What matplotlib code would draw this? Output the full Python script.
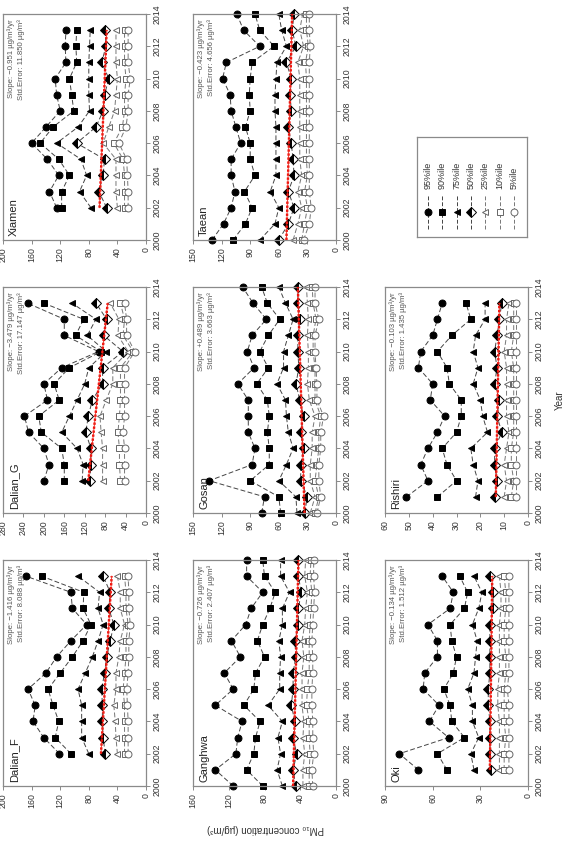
import matplotlib.pyplot as plt

# figure is the usual 3x3 panel figure turned 90 deg counter-clockwise
W, H = 582, 841
plt.rcParams['font.family'] = ['Liberation Sans', 'DejaVu Sans']

pct_labels = ['95%ile', '90%ile', '75%ile', '50%ile', '25%ile', '10%ile', '5%ile']

# rows: 95, 90, 75, 50, 25, 10, 5 %ile
dalian_f_years = [2002, 2003, 2004, 2005, 2006, 2007, 2008, 2009, 2010, 2011, 2012, 2013]
dalian_f_vals = [
    [121, 143, 158, 155, 165, 140, 125, 105, 83, 103, 105, 168],
    [105, 127, 122, 130, 137, 120, 103, 88, 77, 88, 87, 146],
    [80, 90, 90, 90, 95, 85, 75, 67, 60, 67, 65, 95],
    [57, 60, 61, 61, 62, 58, 55, 50, 45, 52, 50, 60],
    [40, 42, 43, 45, 42, 42, 38, 36, 30, 36, 36, 40],
    [30, 30, 30, 30, 32, 30, 28, 28, 25, 28, 28, 30],
    [25, 25, 25, 26, 27, 25, 24, 24, 22, 24, 24, 25],
]
dalian_g_years = [2002, 2003, 2004, 2005, 2006, 2007, 2008, 2009, 2010, 2011, 2012, 2013]
dalian_g_vals = [
    [200, 190, 200, 230, 238, 193, 200, 165, 93, 160, 160, 232],
    [160, 160, 165, 205, 210, 170, 180, 150, 88, 138, 122, 200],
    [125, 123, 135, 165, 150, 135, 120, 112, 78, 115, 98, 145],
    [110, 108, 108, 118, 113, 105, 85, 85, 45, 83, 77, 98],
    [85, 85, 85, 88, 90, 78, 65, 65, 35, 55, 53, 70],
    [50, 52, 52, 55, 52, 50, 50, 50, 25, 45, 42, 50],
    [42, 42, 42, 45, 42, 42, 42, 42, 22, 38, 38, 42],
]
xiamen_years = [2002, 2003, 2004, 2005, 2006, 2007, 2008, 2009, 2010, 2011, 2012, 2013]
xiamen_vals = [
    [125, 135, 122, 138, 160, 140, 120, 125, 127, 112, 113, 112],
    [118, 118, 107, 122, 148, 130, 101, 104, 107, 97, 98, 97],
    [77, 93, 83, 91, 125, 95, 79, 80, 80, 80, 79, 78],
    [55, 66, 60, 58, 97, 70, 60, 58, 52, 62, 56, 57],
    [40, 42, 42, 42, 60, 52, 44, 42, 40, 42, 42, 42],
    [30, 30, 30, 32, 45, 33, 30, 30, 28, 30, 30, 30],
    [25, 25, 26, 27, 38, 28, 25, 25, 22, 25, 25, 25],
]
ganghwa_years = [2000, 2001, 2002, 2003, 2004, 2005, 2006, 2007, 2008, 2009, 2010, 2011, 2012, 2013, 2014]
ganghwa_vals = [
    [115, 135, 112, 110, 105, 135, 115, 125, 107, 117, 101, 95, 82, 100, 100],
    [82, 100, 92, 90, 85, 103, 92, 90, 80, 88, 82, 74, 68, 80, 82],
    [60, 66, 62, 65, 60, 76, 63, 63, 62, 64, 60, 60, 52, 62, 62],
    [45, 48, 44, 48, 46, 50, 48, 48, 45, 46, 42, 42, 39, 42, 42],
    [37, 37, 35, 37, 36, 38, 38, 38, 36, 38, 35, 34, 32, 35, 34],
    [30, 30, 29, 30, 30, 33, 32, 30, 30, 30, 29, 28, 27, 29, 28],
    [26, 27, 25, 26, 26, 27, 27, 26, 26, 27, 26, 25, 24, 25, 25],
]
gosan_years = [2000, 2001, 2002, 2003, 2004, 2005, 2006, 2007, 2008, 2009, 2010, 2011, 2012, 2013, 2014]
gosan_vals = [
    [78, 75, 133, 88, 85, 92, 92, 92, 103, 86, 93, 88, 73, 87, 98],
    [58, 60, 90, 70, 70, 72, 70, 72, 83, 71, 80, 71, 59, 72, 78],
    [41, 42, 60, 52, 45, 50, 52, 53, 62, 55, 55, 50, 45, 53, 60],
    [33, 30, 37, 37, 34, 37, 34, 38, 42, 39, 40, 40, 38, 40, 40],
    [27, 22, 27, 27, 25, 25, 22, 28, 30, 29, 29, 30, 29, 30, 31],
    [22, 18, 22, 20, 18, 18, 16, 22, 22, 22, 24, 24, 21, 24, 25],
    [20, 16, 18, 18, 16, 16, 13, 20, 20, 21, 22, 22, 18, 22, 22],
]
taean_years = [2000, 2001, 2002, 2003, 2004, 2005, 2006, 2007, 2008, 2009, 2010, 2011, 2012, 2013, 2014]
taean_vals = [
    [130, 118, 110, 106, 110, 110, 100, 105, 110, 111, 119, 115, 80, 97, 104],
    [108, 95, 88, 96, 85, 90, 90, 95, 90, 91, 90, 88, 65, 80, 85],
    [80, 64, 60, 69, 63, 63, 63, 63, 64, 64, 63, 62, 52, 57, 60],
    [60, 50, 44, 50, 44, 45, 47, 50, 47, 48, 47, 52, 42, 46, 44],
    [45, 40, 36, 40, 36, 38, 38, 38, 38, 38, 38, 40, 34, 38, 35],
    [36, 33, 30, 33, 30, 31, 31, 31, 31, 31, 31, 32, 29, 31, 31],
    [34, 28, 26, 28, 28, 28, 28, 28, 28, 28, 28, 28, 27, 28, 28],
]
oki_years = [2001, 2002, 2003, 2004, 2005, 2006, 2007, 2008, 2009, 2010, 2011, 2012, 2013]
oki_vals = [
    [69, 81, 50, 62, 56, 66, 65, 57, 57, 63, 49, 47, 54],
    [51, 57, 40, 48, 49, 53, 47, 45, 48, 49, 40, 38, 43],
    [34, 36, 31, 35, 35, 38, 34, 33, 32, 35, 31, 29, 34],
    [23, 24, 24, 24, 25, 25, 24, 24, 24, 24, 22, 22, 24],
    [18, 18, 18, 18, 19, 19, 18, 18, 18, 18, 17, 17, 18],
    [15, 15, 14, 15, 15, 15, 14, 14, 15, 15, 14, 14, 15],
    [12, 12, 12, 12, 12, 13, 12, 12, 12, 12, 12, 12, 12],
]
rishiri_years = [2001, 2002, 2003, 2004, 2005, 2006, 2007, 2008, 2009, 2010, 2011, 2012, 2013]
rishiri_vals = [
    [51, 42, 45, 42, 38, 35, 41, 40, 46, 45, 40, 38, 36],
    [38, 30, 34, 36, 30, 28, 28, 33, 34, 38, 32, 24, 26],
    [22, 21, 23, 24, 17, 19, 20, 23, 21, 23, 22, 18, 18],
    [14, 13, 14, 14, 11, 13, 12, 14, 13, 14, 13, 12, 11],
    [10, 9, 10, 9, 8, 9, 9, 9, 9, 10, 9, 9, 8],
    [7, 6, 7, 7, 6, 6, 6, 6, 6, 7, 6, 6, 6],
    [5, 5, 5, 5, 5, 5, 5, 5, 5, 5, 5, 5, 5],
]

site_names = ['Dalian_F', 'Dalian_G', 'Xiamen', 'Ganghwa', 'Gosan', 'Taean', 'Oki', 'Rishiri']
site_years = [dalian_f_years, dalian_g_years, xiamen_years, ganghwa_years,
              gosan_years, taean_years, oki_years, rishiri_years]
site_vals = [dalian_f_vals, dalian_g_vals, xiamen_vals, ganghwa_vals,
             gosan_vals, taean_vals, oki_vals, rishiri_vals]
axis_max = [200, 280, 200, 160, 150, 150, 90, 60]
axis_step = [40, 40, 40, 40, 30, 30, 30, 10]
slopes = ['\u22121.416', '\u22123.479', '\u22120.951', '\u22120.726', '+0.489', '\u22120.423', '\u22120.134', '\u22120.103']
std_errors = ['8.088', '17.147', '11.850', '2.407', '3.663', '4.656', '1.512', '1.435']
# regression line value at first and last year
trend_start = [63, 113, 65, 48, 33, 52, 24, 13.5]
trend_end = [48, 75, 55, 42, 40, 46, 22.5, 12]

# upright grid: row, col
grid_pos = [(0, 0), (0, 1), (0, 2), (1, 0), (1, 1), (1, 2), (2, 0), (2, 1)]
row_x = [3, 193, 385]        # pixel left edge for each upright row
col_y = [560, 287, 14]       # pixel top edge for each upright column
PW, PH = 143, 226

markers = ['o', 's', '<', 'D', '<', 's', 'o']
face = ['black', 'black', 'black', 'black', 'white', 'white', 'white']
edge = ['black', 'black', 'black', 'black', '#666666', '#666666', '#666666']
fill = ['full', 'full', 'full', 'left', 'full', 'full', 'full']
line_col = ['#444444', '#444444', '#444444', '#444444', '#777777', '#777777', '#777777']

tick_col = '#333333'
frame_col = '#8a8a8a'

fig = plt.figure(figsize=(W / 100, H / 100), dpi=100)

for i, name in enumerate(site_names):
    r, c = grid_pos[i]
    x0, y0 = row_x[r], col_y[c]
    ax = fig.add_axes([x0 / W, 1 - (y0 + PH) / H, PW / W, PH / H])
    years = site_years[i]
    for k in range(7):
        ax.plot(site_vals[i][k], years, ls=(0, (5, 2.5)), lw=0.7, color=line_col[k],
                marker=markers[k], ms=5, mfc=face[k], mec=edge[k], mew=0.7,
                fillstyle=fill[k], markerfacecoloralt='white', clip_on=False, zorder=2)
    ax.plot([trend_start[i], trend_end[i]], [years[0], years[-1]], color='red',
            lw=1.7, ls=(0, (1, 0.7)), zorder=4)
    ax.plot([trend_start[i], trend_end[i]], [years[0], years[-1]], color='#e03020',
            lw=0.6, zorder=4)
    ax.set_xlim(axis_max[i], 0)
    ax.set_ylim(2000, 2014)
    ax.set_xticks(range(0, axis_max[i] + 1, axis_step[i]))
    ax.set_yticks(range(2000, 2015, 2))
    ax.yaxis.tick_right()
    ax.tick_params(axis='both', direction='out', length=3, width=0.7, color=frame_col,
                   labelsize=6.3, labelcolor=tick_col, pad=2)
    for lab in ax.get_xticklabels():
        lab.set_rotation(90)
        lab.set_ha('center')
        lab.set_va('top')
    for lab in ax.get_yticklabels():
        lab.set_rotation(90)
        lab.set_ha('left')
        lab.set_va('center')
    for s in ax.spines.values():
        s.set_color(frame_col)
        s.set_linewidth(0.9)
    ax.text(8 / PW, 1 - 5 / PH, 'Slope: ' + slopes[i] + ' \u00b5g/m\u00b3/yr',
            transform=ax.transAxes, rotation=90, ha='center', va='top',
            fontsize=5.6, color='#555555')
    ax.text(18 / PW, 1 - 5 / PH, 'Std.Error: ' + std_errors[i] + ' \u00b5g/m\u00b3',
            transform=ax.transAxes, rotation=90, ha='center', va='top',
            fontsize=5.6, color='#555555')
    ax.text(11 / PW, 4 / PH, name, transform=ax.transAxes, rotation=90,
            ha='center', va='bottom', fontsize=8, color='#222222')

# legend, drawn by hand since it is turned too
lax = fig.add_axes([417 / W, 1 - 237 / H, 110 / W, 100 / H])
lax.set_xlim(0, 1)
lax.set_ylim(0, 1)
lax.set_xticks([])
lax.set_yticks([])
for s in lax.spines.values():
    s.set_color(frame_col)
    s.set_linewidth(0.9)
for k, lab in enumerate(pct_labels):
    xk = (11 + 14.3 * k) / 110
    lax.plot([xk, xk], [0.08, 0.42], ls=(0, (4, 2)), lw=0.7, color=line_col[k])
    lax.plot([xk], [0.25], marker=markers[k], ms=5, mfc=face[k], mec=edge[k], mew=0.7,
             fillstyle=fill[k], markerfacecoloralt='white', ls='none')
    lax.text(xk, 0.48, lab, rotation=90, ha='center', va='bottom', fontsize=6.5, color=tick_col)

fig.text(265 / W, 1 - 829 / H, 'PM\u2081\u2080 concentration (\u00b5g/m\u00b3)', rotation=180,
         ha='center', va='center', fontsize=7, color=tick_col)
fig.text(560 / W, 1 - 400 / H, 'Year', rotation=90, ha='center', va='center',
         fontsize=7, color=tick_col)

fig.savefig('out.png', dpi=100)
